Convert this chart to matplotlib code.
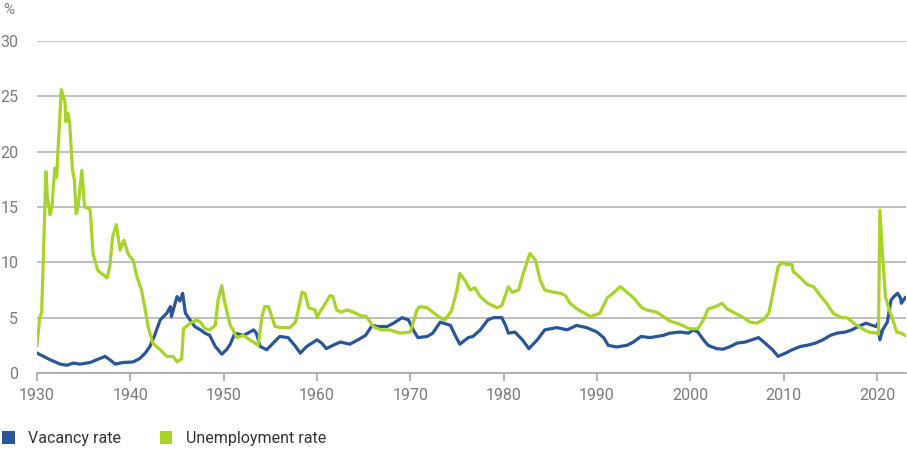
import matplotlib
matplotlib.use("Agg")
import matplotlib.pyplot as plt
from matplotlib.patches import Patch

plt.rcParams['font.family'] = ['Roboto', 'DejaVu Sans']

# Vacancy rate (year, %)
vac_year = [1930.0, 1930.7, 1931.4, 1932.5, 1933.2, 1933.9, 1934.6, 1935.7, 1936.4, 1937.3,
            1937.8, 1938.4, 1939.2, 1940.3, 1941.0, 1941.6, 1942.1, 1942.6, 1943.2, 1943.9,
            1944.3, 1944.4, 1945.0, 1945.3, 1945.6, 1945.9, 1946.4, 1946.9, 1947.5, 1948.0,
            1948.5, 1949.1, 1949.8, 1950.3, 1950.7, 1951.2, 1952.1, 1952.6, 1953.2, 1953.5,
            1953.9, 1954.6, 1955.3, 1956.0, 1956.9, 1957.7, 1958.2, 1958.9, 1960.0, 1960.5,
            1961.0, 1961.7, 1962.5, 1963.5, 1964.4, 1965.2, 1965.9, 1966.5, 1967.5, 1968.2,
            1969.1, 1969.8, 1970.3, 1970.8, 1971.8, 1972.4, 1973.2, 1974.3, 1974.8, 1975.3,
            1976.2, 1976.7, 1977.5, 1978.3, 1978.9, 1979.8, 1980.2, 1980.5, 1981.2, 1982.0,
            1982.7, 1983.6, 1984.4, 1985.7, 1986.8, 1987.8, 1988.9, 1990.0, 1990.7, 1991.2,
            1992.1, 1993.2, 1993.9, 1994.7, 1995.7, 1996.4, 1997.1, 1997.8, 1998.9, 1999.8,
            2000.3, 2000.8, 2001.4, 2001.9, 2002.8, 2003.5, 2004.3, 2005.0, 2005.9, 2006.6,
            2007.3, 2008.0, 2008.8, 2009.4, 2010.2, 2010.9, 2011.8, 2012.5, 2013.4, 2014.2,
            2015.0, 2015.7, 2016.6, 2017.3, 2018.0, 2018.8, 2019.5, 2019.9, 2020.1, 2020.3,
            2020.6, 2021.1, 2021.5, 2021.8, 2022.2, 2022.5, 2022.6, 2023.0]
vac_rate = [1.8, 1.5, 1.2, 0.8, 0.7, 0.9, 0.8, 0.95, 1.2, 1.5,
            1.2, 0.8, 0.95, 1.0, 1.3, 1.8, 2.4, 3.4, 4.8, 5.4,
            6.0, 5.1, 6.9, 6.5, 7.2, 5.4, 4.8, 4.2, 3.9, 3.6,
            3.4, 2.4, 1.7, 2.1, 2.6, 3.6, 3.4, 3.6, 3.9, 3.6,
            2.4, 2.1, 2.7, 3.3, 3.2, 2.4, 1.8, 2.4, 3.0, 2.7,
            2.2, 2.5, 2.8, 2.6, 3.0, 3.4, 4.3, 4.2, 4.2, 4.5,
            5.0, 4.8, 3.9, 3.2, 3.3, 3.6, 4.6, 4.3, 3.4, 2.6,
            3.2, 3.3, 3.9, 4.8, 5.0, 5.0, 4.3, 3.6, 3.7, 3.0,
            2.2, 3.0, 3.9, 4.1, 3.9, 4.3, 4.1, 3.7, 3.2, 2.5,
            2.35, 2.5, 2.8, 3.3, 3.2, 3.3, 3.4, 3.6, 3.7, 3.6,
            3.9, 3.7, 3.0, 2.5, 2.2, 2.15, 2.4, 2.7, 2.8, 3.0,
            3.2, 2.7, 2.1, 1.5, 1.8, 2.1, 2.4, 2.5, 2.7, 3.0,
            3.4, 3.6, 3.7, 3.9, 4.2, 4.5, 4.3, 4.2, 4.5, 3.0,
            3.9, 4.6, 6.6, 6.9, 7.2, 6.8, 6.3, 6.8]

# Unemployment rate (year, %)
unemp_year = [1930.0, 1930.3, 1930.5, 1930.96, 1931.1, 1931.4, 1931.6, 1931.9, 1932.1, 1932.6,
              1933.0, 1933.1, 1933.3, 1933.5, 1933.8, 1934.0, 1934.2, 1934.4, 1934.8, 1935.1,
              1935.5, 1935.7, 1936.0, 1936.5, 1936.9, 1937.5, 1937.8, 1938.1, 1938.5, 1938.9,
              1939.3, 1939.8, 1940.3, 1940.7, 1941.2, 1941.6, 1941.9, 1942.4, 1943.2, 1943.9,
              1944.6, 1945.0, 1945.5, 1945.7, 1946.4, 1947.1, 1947.5, 1948.0, 1948.5, 1949.1,
              1949.4, 1949.8, 1950.1, 1950.7, 1951.0, 1951.4, 1952.1, 1952.8, 1953.7, 1954.1,
              1954.4, 1954.8, 1955.5, 1956.2, 1957.1, 1957.7, 1958.4, 1958.7, 1959.1, 1959.8,
              1960.0, 1960.3, 1960.9, 1961.4, 1961.7, 1962.1, 1962.6, 1963.2, 1963.9, 1964.6,
              1965.3, 1966.0, 1966.8, 1967.8, 1968.9, 1970.0, 1970.7, 1971.0, 1971.8, 1972.4,
              1973.2, 1973.7, 1974.4, 1975.0, 1975.3, 1975.9, 1976.4, 1976.9, 1977.5, 1978.3,
              1979.3, 1979.8, 1980.5, 1980.9, 1981.6, 1982.1, 1982.8, 1983.4, 1983.9, 1984.4,
              1985.3, 1986.1, 1986.6, 1987.1, 1988.0, 1988.7, 1989.3, 1990.3, 1991.1, 1991.7,
              1992.5, 1993.2, 1993.9, 1994.8, 1995.3, 1996.4, 1997.1, 1997.8, 1998.9, 1999.9,
              2000.8, 2001.4, 2001.9, 2002.7, 2003.4, 2003.9, 2004.8, 2005.7, 2006.4, 2007.1,
              2007.8, 2008.4, 2008.9, 2009.4, 2009.8, 2010.3, 2010.9, 2011.0, 2011.8, 2012.5,
              2013.2, 2013.9, 2014.6, 2015.3, 2016.2, 2016.8, 2017.5, 2018.2, 2019.1, 2020.0,
              2020.15, 2020.3, 2020.6, 2020.9, 2021.2, 2021.8, 2022.1, 2022.6, 2023.0]
unemp_rate = [2.5, 5.0, 5.5, 18.2, 16.0, 14.3, 15.0, 18.5, 17.7, 25.6,
              24.5, 22.7, 23.5, 22.6, 18.3, 17.5, 14.4, 15.0, 18.3, 15.0,
              14.9, 14.7, 10.8, 9.3, 9.0, 8.6, 9.6, 12.3, 13.4, 11.1,
              12.0, 10.7, 10.2, 8.7, 7.5, 5.7, 4.2, 2.7, 2.1, 1.5,
              1.5, 1.0, 1.3, 4.0, 4.5, 4.8, 4.6, 4.0, 3.9, 4.3,
              6.6, 7.9, 6.4, 4.3, 3.9, 3.2, 3.4, 3.0, 2.5, 5.1,
              6.0, 6.0, 4.2, 4.1, 4.1, 4.6, 7.3, 7.2, 5.9, 5.7,
              5.0, 5.5, 6.3, 7.0, 6.9, 5.7, 5.5, 5.7, 5.5, 5.2,
              5.1, 4.2, 3.9, 3.9, 3.6, 3.7, 5.7, 6.0, 5.9, 5.5,
              5.0, 4.8, 5.6, 7.5, 9.0, 8.3, 7.5, 7.7, 6.9, 6.3,
              5.9, 6.1, 7.8, 7.3, 7.5, 9.0, 10.8, 10.2, 8.4, 7.5,
              7.3, 7.2, 7.0, 6.3, 5.7, 5.4, 5.1, 5.4, 6.8, 7.2,
              7.8, 7.3, 6.8, 5.9, 5.7, 5.5, 5.1, 4.7, 4.4, 4.0,
              4.0, 4.8, 5.8, 6.0, 6.3, 5.8, 5.4, 5.0, 4.6, 4.5,
              4.8, 5.4, 7.5, 9.6, 10.0, 9.8, 9.8, 9.2, 8.6, 8.0,
              7.8, 7.0, 6.3, 5.4, 5.0, 5.0, 4.5, 4.1, 3.7, 3.6,
              3.5, 14.7, 10.5, 6.9, 6.0, 4.5, 3.7, 3.6, 3.4]

x_ticks = list(range(1930, 2030, 10))
y_ticks = [0, 5, 10, 15, 20, 25, 30]

BLUE = "#2a5597"
GREEN = "#a8d32b"
GREY_TXT = "#7a7a7a"

fig = plt.figure(figsize=(9.07, 4.49), dpi=100)
ax = fig.add_axes([37 / 907, 1 - 373 / 449, 869 / 907, 332 / 449])

ax.plot(vac_year, vac_rate, color=BLUE, lw=2.3, solid_joinstyle="round")
ax.plot(unemp_year, unemp_rate, color=GREEN, lw=2.3, solid_joinstyle="round")

ax.set_xlim(1930, 2023.1)
ax.set_ylim(0, 30)
ax.set_xticks(x_ticks)
ax.set_yticks(y_ticks)
ax.grid(axis="y", color="#b4b4b4", lw=1.2)
ax.set_axisbelow(True)

for s in ["top", "right", "left"]:
    ax.spines[s].set_visible(False)
ax.spines["bottom"].set_color("#a8a8a8")
ax.spines["bottom"].set_linewidth(1.2)
ax.spines["bottom"].set_zorder(3)

ax.tick_params(axis="x", length=6, width=1.2, color="#a8a8a8", labelsize=11.5,
               labelcolor=GREY_TXT, pad=5)
ax.tick_params(axis="y", length=0, labelsize=11.5, labelcolor=GREY_TXT, pad=13.5)
ax.set_yticklabels([str(v) for v in y_ticks])

fig.text(3 / 907, 1 - 10 / 449, "%", color=GREY_TXT, fontsize=11, va="center", ha="left")

handles = [Patch(facecolor=BLUE, edgecolor="none", label="Vacancy rate"),
           Patch(facecolor=GREEN, edgecolor="none", label="Unemployment rate")]
fig.legend(handles=handles, loc="lower left", bbox_to_anchor=(2 / 907, 3 / 449), ncol=2,
           frameon=False, fontsize=11.5, handlelength=0.8, handleheight=0.8,
           handletextpad=0.85, columnspacing=2.4, borderpad=0, borderaxespad=0,
           labelcolor="#333333")

fig.savefig("out.png", dpi=100)
